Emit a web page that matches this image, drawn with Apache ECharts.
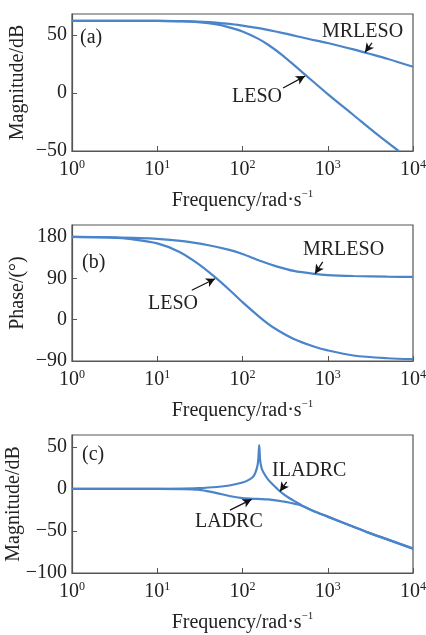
<!DOCTYPE html>
<html>
<head>
<meta charset="utf-8">
<script src="https://cdn.jsdelivr.net/npm/echarts@6/dist/echarts.min.js"></script>
<style>
  html, body { margin: 0; padding: 0; background: #fff; }
  #main { width: 426px; height: 635px; }
</style>
</head>
<body>
<div id="main"></div>
<script>
// (a) magnitude of the observers
const freqMrlesoMag = [1, 3, 10, 20, 40, 70, 100, 150, 300, 600, 1000, 2000, 3000, 5000, 10000];
const mrlesoMag = [62, 62, 62, 61.8, 61, 59.5, 58, 56, 51.5, 46.5, 43, 37.5, 34, 29.5, 22.5];
const freqLesoMag = [1, 3, 10, 20, 30, 50, 70, 100, 150, 200, 300, 500, 1000, 2000, 4000, 6800];
const lesoMag = [62, 62, 62, 61.7, 61, 59, 56.5, 53, 47, 41.5, 32, 18, -1, -19, -37, -50];

// (b) phase of the observers
const freqMrlesoPh = [1, 3, 10, 20, 40, 70, 100, 160, 250, 400, 700, 1000, 2000, 5000, 10000];
const mrlesoPh = [180, 179, 176, 171, 162, 152, 143, 128, 116, 106, 99.5, 97, 95, 93.5, 93];
const freqLesoPh = [1, 3, 5, 10, 18, 30, 48, 70, 100, 160, 230, 400, 700, 1000, 2000, 5000, 10000];
const lesoPh = [180, 178.5, 175, 166, 148, 122, 92, 65, 38, 5, -17, -42, -59, -67, -78, -84, -86];

// (c) magnitude of the controllers
const freqLadrc = [1, 10, 20, 30, 40, 50, 70, 100, 150, 200, 300, 500, 700, 1000, 2000, 3000, 5000, 10000];
const ladrcMag = [0, 0, -0.3, -1, -3, -5, -8.5, -11, -12, -12.5, -15, -20, -27, -33, -45, -52, -60, -71];
const freqIladrc = [1, 10, 20, 30, 50, 70, 100, 120, 135, 147, 153, 157, 161, 167, 175, 200, 253, 300, 360, 450, 500, 700, 1000, 2000, 3000, 5000, 10000];
const iladrcMag = [0, 0, 0.3, 0.8, 2.2, 4, 7.5, 11, 15, 24, 34, 52, 34, 25, 20, 11, 0.5, -6, -11.5, -17, -20, -27, -33, -45, -52, -60, -71];

// annotation arrows [tail, head] in data units
const arrowA1 = [[3300, 43.1], [2735, 35]];
const arrowA2 = [[299, 4.3], [541, 14.5]];
const arrowB1 = [[873, 125.6], [709, 100]];
const arrowB2 = [[25.4, 64], [47.6, 89]];
const arrowC1 = [[330, 8.3], [275, -3]];
const arrowC2 = [[71.3, -25.3], [128, -12.5]];

const FONT = 'Liberation Serif';
const BLUE = '#4a84ca';
const INK = '#222';

const pair = (fs, vs) => fs.map((f, i) => [f, vs[i]]);

const grids = [
  {left: 72, right: 13, top: 14, height: 137},
  {left: 72, right: 13, top: 225, height: 136},
  {left: 72, right: 13, top: 435, height: 138}
].map(g => Object.assign(g, {
  show: true, borderColor: '#555', borderWidth: 1.2,
  backgroundColor: 'transparent', containLabel: false, outerBoundsMode: 'none'
}));

function xAxisCfg(i) {
  return {
    type: 'log', logBase: 10, gridIndex: i, min: 1, max: 10000,
    name: '{n|Frequency/rad·s}{s|−1}',
    nameLocation: 'middle', nameGap: 38, nameMoveOverlap: false,
    nameTextStyle: {
      rich: {
        n: {fontFamily: FONT, fontSize: 20, color: INK, lineHeight: 24},
        s: {fontFamily: FONT, fontSize: 11, color: INK, verticalAlign: 'top', lineHeight: 14}
      }
    },
    axisLine: {onZero: false, lineStyle: {color: '#555', width: 1.2}},
    axisTick: {inside: true, length: 5, lineStyle: {color: '#555'}},
    minorTick: {show: false},
    splitLine: {show: false},
    axisLabel: {
      margin: 8,
      formatter: v => '{b|10}{s|' + Math.round(Math.log10(v)) + '}',
      rich: {
        b: {fontFamily: FONT, fontSize: 20, color: INK, lineHeight: 22},
        s: {fontFamily: FONT, fontSize: 12, color: INK, verticalAlign: 'top', lineHeight: 14}
      }
    }
  };
}

function yAxisCfg(i, name, min, max, interval, gap) {
  return {
    type: 'value', gridIndex: i, min: min, max: max, interval: interval,
    name: name, nameLocation: 'middle', nameGap: gap, nameRotate: 90, nameMoveOverlap: false,
    nameTextStyle: {fontFamily: FONT, fontSize: 20, color: INK},
    axisLine: {show: true, onZero: false, lineStyle: {color: '#555', width: 1.2}},
    axisTick: {show: true, inside: true, length: 5, lineStyle: {color: '#555'}},
    splitLine: {show: false},
    axisLabel: {
      showMaxLabel: false, margin: 5,
      fontFamily: FONT, fontSize: 20, color: INK,
      formatter: v => String(v).replace('-', '−')
    }
  };
}

function arrow(a) {
  return {
    silent: true, animation: false,
    symbol: ['none', 'arrow'], symbolSize: [7, 9],
    label: {show: false},
    lineStyle: {color: '#111', width: 1.2, type: 'solid'},
    data: [[{coord: a[0]}, {coord: a[1]}]]
  };
}

function line(i, data, arr) {
  return {
    type: 'line', xAxisIndex: i, yAxisIndex: i, data: data,
    showSymbol: false, smooth: 0.3, animation: false,
    lineStyle: {color: BLUE, width: 2.2},
    markLine: arrow(arr)
  };
}

function label(text, x, y) {
  return {
    type: 'text', left: x, top: y,
    style: {text: text, fontFamily: FONT, fontSize: 20, fill: INK}
  };
}

const chart = echarts.init(document.getElementById('main'), null, {renderer: 'canvas'});
chart.setOption({
  backgroundColor: '#fff',
  grid: grids,
  xAxis: [xAxisCfg(0), xAxisCfg(1), xAxisCfg(2)],
  yAxis: [
    yAxisCfg(0, 'Magnitude/dB', -50, 68, 50, 44),
    yAxisCfg(1, 'Phase/(°)', -90, 206, 90, 44),
    yAxisCfg(2, 'Magnitude/dB', -100, 64, 50, 48)
  ],
  series: [
    line(0, pair(freqMrlesoMag, mrlesoMag), arrowA1),
    line(0, pair(freqLesoMag, lesoMag), arrowA2),
    line(1, pair(freqMrlesoPh, mrlesoPh), arrowB1),
    line(1, pair(freqLesoPh, lesoPh), arrowB2),
    line(2, pair(freqIladrc, iladrcMag), arrowC1),
    line(2, pair(freqLadrc, ladrcMag), arrowC2)
  ],
  graphic: [
    label('(a)', 80, 28),
    label('MRLESO', 322, 22),
    label('LESO', 232, 87),
    label('(b)', 82, 253),
    label('MRLESO', 303, 240),
    label('LESO', 148, 294),
    label('(c)', 82, 445),
    label('ILADRC', 272, 461),
    label('LADRC', 195, 512)
  ]
});
</script>
</body>
</html>
